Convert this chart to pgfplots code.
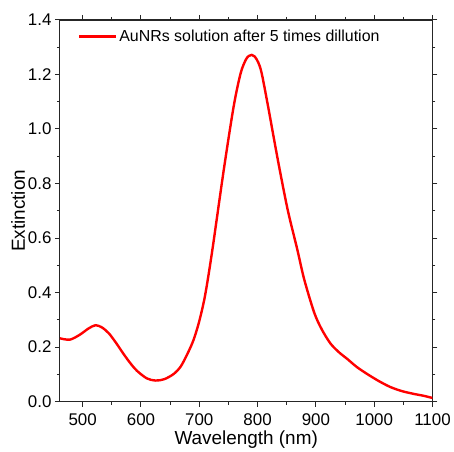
\documentclass[border=0pt]{standalone}
\usepackage{fontspec}
\setmainfont{Liberation Sans}
\usepackage{pgfplots}
\pgfplotsset{compat=1.18}

\begin{document}
\begin{tikzpicture}
\begin{axis}[
  scale only axis, width=373bp, height=382bp,
  xmin=461, xmax=1100, ymin=0, ymax=1.4,
  xtick={500,600,...,1100}, ytick={0,0.2,...,1.4},
  minor x tick num=1, minor y tick num=1,
  tick align=outside, major tick length=5bp, minor tick length=3bp,
  axis line style={line width=1.1bp, black!85},
  every tick/.style={line width=1bp, black!85},
  /pgf/number format/assume math mode=true,
  /pgf/number format/1000 sep={},
  yticklabel style={/pgf/number format/.cd, fixed, fixed zerofill, precision=1},
  tick label style={font=\fontsize{17}{20}\selectfont},
  xticklabel style={yshift=-4bp},
  label style={font=\fontsize{19}{22}\selectfont},
  xlabel={Wavelength (nm)}, ylabel={Extinction},
  xlabel shift=-2bp, ylabel shift=-4bp,
  legend style={draw=none, fill=none, at={(0.04,0.985)}, anchor=north west,
    font=\fontsize{16}{19}\selectfont},
  legend cell align=left,
  legend image code/.code={\draw[#1] (0bp,0bp) -- (37bp,0bp);},
]
\addplot[red, line width=2.4bp, smooth, tension=0.5] coordinates {
(461,0.232)(478,0.227)(495,0.245)(510,0.268)(522,0.280)(533,0.272)
(545,0.250)(558,0.213)(570,0.175)(582,0.140)(593,0.113)(610,0.085)
(625,0.077)(640,0.082)(656,0.101)(668,0.128)(679,0.172)(690,0.225)
(700,0.295)(710,0.390)(722,0.550)(742,0.850)(759,1.083)(771,1.205)
(780,1.255)(785,1.268)(790,1.272)(795,1.266)(801,1.245)(807,1.205)
(818,1.083)(828,0.965)(838,0.850)(852,0.700)(868,0.559)(880,0.448)
(897,0.327)(910,0.265)(925,0.213)(940,0.180)(954,0.156)(970,0.127)
(988,0.101)(1008,0.075)(1028,0.053)(1048,0.038)(1068,0.028)(1085,0.021)
(1100,0.013)};
\addlegendentry{AuNRs solution after 5 times dillution}
\end{axis}
\path (current axis.south west) ++(-60bp,-45bp) rectangle ++(454bp,447bp);
\end{tikzpicture}
\end{document}
